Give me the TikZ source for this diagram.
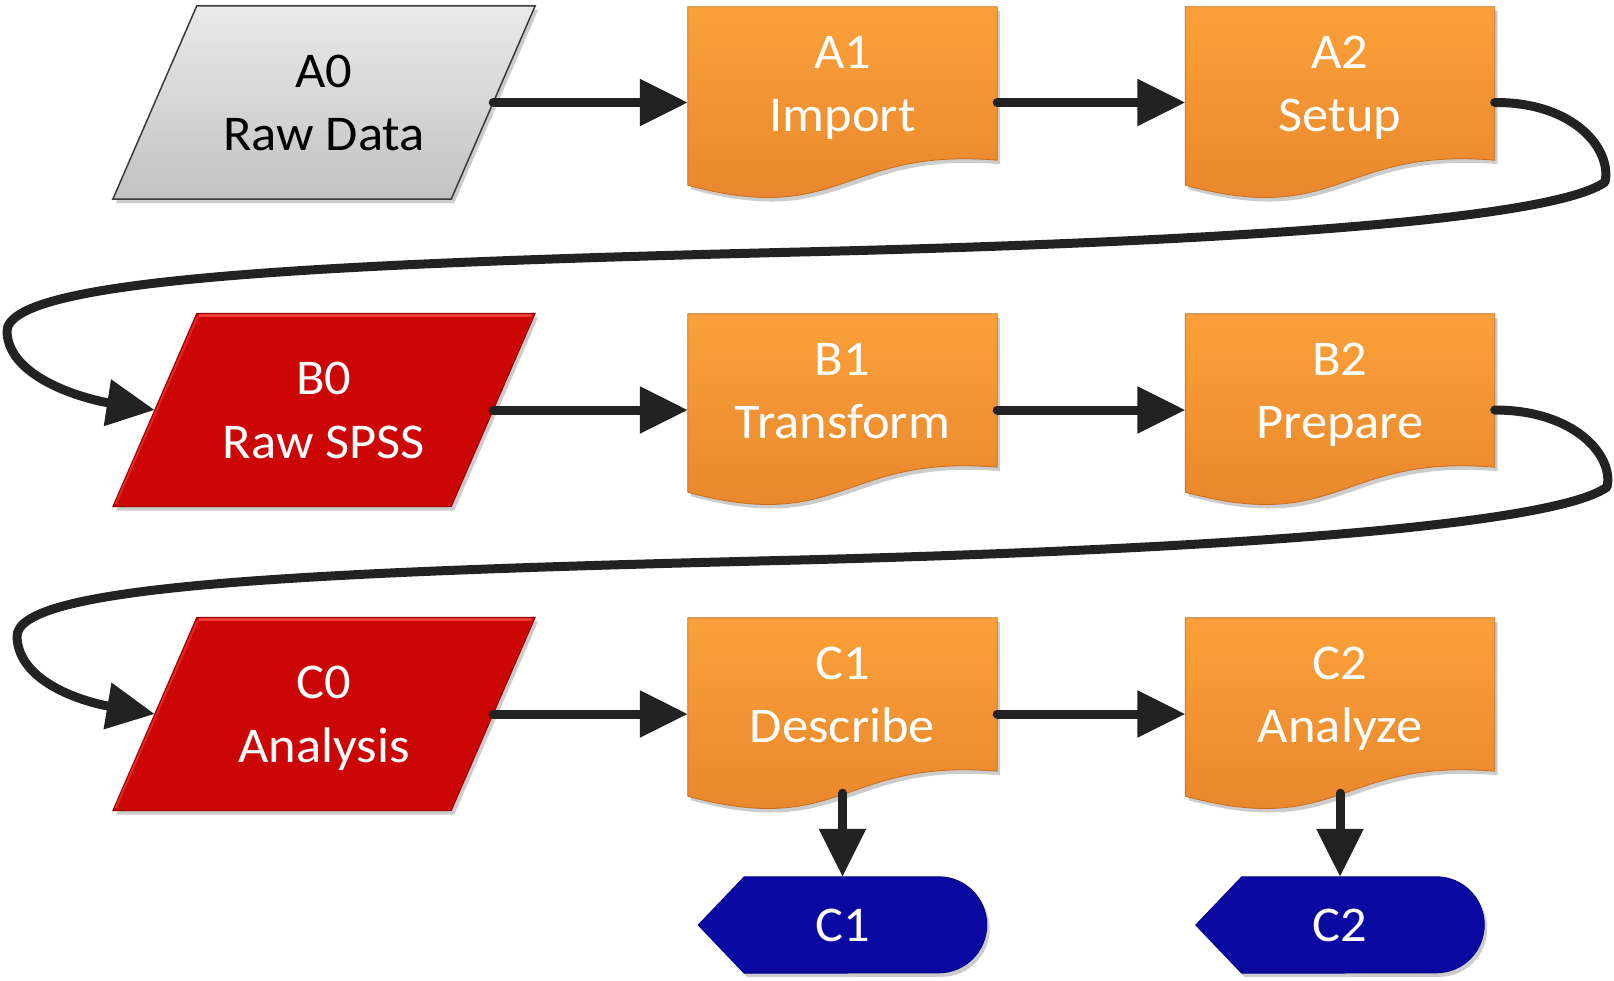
\documentclass[tikz,border=0pt]{standalone}
\usepackage{fontspec}
\setmainfont{Carlito}[FakeStretch=1.05]
\usetikzlibrary{arrows.meta,calc,backgrounds}
\definecolor{orgtop}{HTML}{FBA03A}
\definecolor{orgbot}{HTML}{E6842A}
\definecolor{orgedge}{HTML}{C96C1C}
\definecolor{redf}{HTML}{CC0505}
\definecolor{redhi}{HTML}{F23C3C}
\definecolor{reddk}{HTML}{990000}
\definecolor{graytop}{HTML}{EAEAEA}
\definecolor{graybot}{HTML}{C2C2C2}
\definecolor{grayedge}{HTML}{3A3A3A}
\definecolor{bluetop}{HTML}{4A4AEC}
\definecolor{bluemid}{HTML}{0A0AA2}
\definecolor{bluebot}{HTML}{00008A}
\definecolor{connc}{HTML}{222222}
\pgfdeclareverticalshading{blueshade}{100bp}{color(0bp)=(bluebot); color(30bp)=(bluemid); color(86bp)=(bluemid); color(100bp)=(bluetop)}
\newcommand\lnstrut{\rule[-14pt]{0pt}{61pt}}
\newcommand\parapath[1]{([xshift=84pt]#1.north west) -- (#1.north east) -- ([xshift=-84pt]#1.south east) -- (#1.south west) -- cycle}
\newcommand\docpath[1]{(#1.north west) -- (#1.north east) -- (#1.south east) .. controls +(-154.5,-13) and +(154.5,42) .. ($(#1.south west)+(0,25)$) -- cycle}
\newcommand\termpath[1]{(#1.west) -- ([xshift=46pt]#1.north west) -- ([xshift=-48pt]#1.north east) arc(-90:90:48) -- ([xshift=46pt]#1.south west) -- cycle}
\tikzset{
  txt/.style={align=center, font=\fontsize{50}{63.5}\selectfont, inner sep=0pt},
  parabox/.style={txt, minimum width=422pt, minimum height=193pt},
  docbox/.style={txt, text=white, minimum width=309pt, minimum height=153pt},
  termbox/.style={txt, text=white, minimum width=288pt, minimum height=96pt},
  shadowed/.style={preaction={fill=black, opacity=.2, transform canvas={shift={(3pt,-4pt)}}}},
  grayfill/.style={shadowed, top color=graytop, bottom color=graybot, draw=grayedge, line width=1.5pt},
  redfill/.style={shadowed, fill=redf, draw=reddk, line width=1pt},
  orgfill/.style={shadowed, top color=orgtop, bottom color=orgbot, draw=orgedge, line width=0.8pt},
  bluefill/.style={shadowed, shading=blueshade, draw=bluebot, line width=1pt},
  link/.style={draw=connc, line width=9pt, line cap=round, line join=round, -{Triangle[length=48pt,width=45pt]}},
}
\begin{document}
\begin{tikzpicture}[x=1pt,y=-1pt]
\useasboundingbox (0,0) rectangle (1614,980);
% nodes
\node[parabox] (A0) at (324,102.5) {\lnstrut A0\\\lnstrut Raw Data};
\node[parabox,text=white] (B0) at (324,410) {\lnstrut B0\\\lnstrut Raw SPSS};
\node[parabox,text=white] (C0) at (324,714) {\lnstrut C0\\\lnstrut Analysis};
\node[docbox] (A1) at (842.5,83.5) {\lnstrut A1\\\lnstrut Import};
\node[docbox] (A2) at (1340,83.5) {\lnstrut A2\\\lnstrut Setup};
\node[docbox] (B1) at (842.5,390.5) {\lnstrut B1\\\lnstrut Transform};
\node[docbox] (B2) at (1340,390.5) {\lnstrut B2\\\lnstrut Prepare};
\node[docbox] (C1) at (842.5,694.5) {\lnstrut C1\\\lnstrut Describe};
\node[docbox] (C2) at (1340,694.5) {\lnstrut C2\\\lnstrut Analyze};
\node[termbox] (T1) at (842.5,925) {\lnstrut C1};
\node[termbox] (T2) at (1340,925) {\lnstrut C2};
% shapes
\begin{scope}[on background layer]
\path[grayfill] \parapath{A0};
\path[redfill] \parapath{B0};
\path[redfill] \parapath{C0};
\foreach \n in {B0,C0}{
  \draw[redhi, line width=3pt] ([xshift=86pt,yshift=-2pt]\n.north west) -- ([xshift=-3pt,yshift=-2pt]\n.north east);
  \draw[redhi, line width=2pt, opacity=.6] ([xshift=85pt,yshift=-3pt]\n.north west) -- ([xshift=3pt,yshift=3pt]\n.south west);
}
\foreach \n in {A1,A2,B1,B2,C1,C2}{
  \path[orgfill] \docpath{\n};
}
\path[bluefill] \termpath{T1};
\path[bluefill] \termpath{T2};
\end{scope}
% connectors
\draw[link] ([xshift=-42pt]A0.east) -- (A0.east -| A1.west);
\draw[link] (A1.east |- A0.east) -- (A2.west |- A0.east);
\draw[link] ([xshift=-42pt]B0.east) -- (B0.east -| B1.west);
\draw[link] (B1.east |- B0.east) -- (B2.west |- B0.east);
\draw[link] ([xshift=-42pt]C0.east) -- (C0.east -| C1.west);
\draw[link] (C1.east |- C0.east) -- (C2.west |- C0.east);
\draw[link] (A2.east |- A0.east) .. controls (1575,102) and (1612,150) .. (1605,182)
  .. controls (1560,215) and (1300,240) .. (800,252)
  .. controls (300,264) and (5,280) .. (7,332)
  .. controls (9,380) and (90,400) .. ([xshift=42pt]B0.west);
\draw[link] (B2.east |- B0.east) .. controls (1575,410) and (1614,456) .. (1607,487)
  .. controls (1562,520) and (1300,547) .. (800,560)
  .. controls (300,572) and (15,585) .. (17,637)
  .. controls (19,685) and (90,703) .. ([xshift=42pt]C0.west);
\draw[link] ([yshift=-22pt]C1.south) -- (T1.north);
\draw[link] ([yshift=-22pt]C2.south) -- (T2.north);
\end{tikzpicture}
\end{document}
